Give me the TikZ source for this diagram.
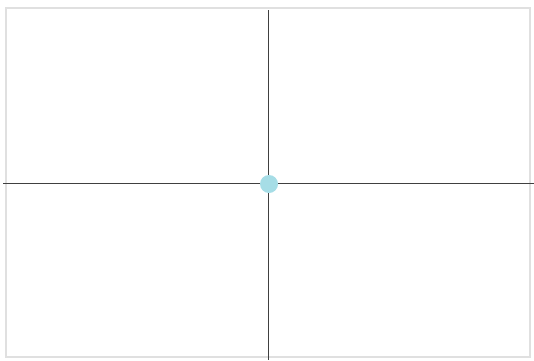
\documentclass[tikz,border=0pt]{standalone}
\usetikzlibrary{positioning}

\definecolor{dotcyan}{HTML}{A6DDE6}

\begin{document}
\begin{tikzpicture}[
  x=1pt, y=1pt,
  frame/.style={draw=black!12, line width=1.2pt},
  axis/.style={draw=black!75, line width=1pt},
  centre/.style={circle, fill=dotcyan, draw=none, minimum size=18pt, inner sep=0pt}
]
\useasboundingbox (0,0) rectangle (534,360);
\draw[frame] (6,3) rectangle (530,352);

\coordinate (top)    at (268,350);
\coordinate (bottom) at (268,0);
\coordinate (left)   at (3,177);
\coordinate (right)  at (534,177);

\draw[axis] (left) -- (right);
\draw[axis] (top) -- (bottom);
\node[centre] (c) at (269,176) {};
\end{tikzpicture}
\end{document}
